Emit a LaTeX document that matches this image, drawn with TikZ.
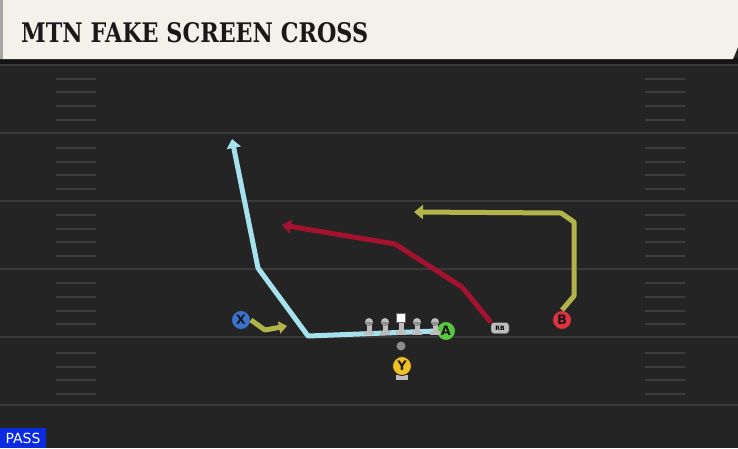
\documentclass[tikz,border=0pt]{standalone}
\usepackage{fontspec}
\setmainfont{DejaVu Sans}
\newfontfamily\titlefont{DejaVu Serif}
\usetikzlibrary{arrows.meta}
\definecolor{fieldbg}{HTML}{242424}
\definecolor{yardline}{HTML}{3A3A3A}
\definecolor{hashc}{HTML}{3D3D3D}
\definecolor{cream}{HTML}{F4F1EA}
\definecolor{routeblue}{HTML}{A6E1EE}
\definecolor{routered}{HTML}{A3122F}
\definecolor{routeolive}{HTML}{B3B34C}
\definecolor{pX}{HTML}{3A74D0}
\definecolor{pA}{HTML}{5BC740}
\definecolor{pB}{HTML}{E03340}
\definecolor{pY}{HTML}{F0C020}
\definecolor{olgray}{HTML}{BDBDBD}
\definecolor{olhead}{HTML}{8E8E8E}
\definecolor{passblue}{HTML}{0A2BE0}
\tikzset{
  player/.style={circle, draw=black!85, line width=0.9pt, inner sep=0pt, minimum size=19pt,
    font=\fontsize{13}{13}\selectfont\bfseries, text=black!90},
  route/.style={line width=5pt, line join=round, -{Triangle[width=14pt,length=9pt]}},
  yard/.style={draw=yardline, line width=2pt},
  hashm/.style={draw=hashc, line width=1.5pt},
}
\begin{document}
\begin{tikzpicture}[x=1pt,y=-1pt]
\useasboundingbox (0,0) rectangle (738,448);
\fill[fieldbg] (0,0) rectangle (738,448);
\fill[black!92] (0,58) rectangle (738,65);
% yard lines
\foreach \yy in {65,133,201,269,337,405} \draw[yard] (0,\yy) -- (738,\yy);
% hash marks
\foreach \yy in {79,92,106,120,148,162,175,189,215,229,242,256,283,297,311,324,353,367,380,394} {
  \draw[hashm] (56,\yy) -- (96,\yy);
  \draw[hashm] (645,\yy) -- (685,\yy);
}
% title bar
\fill[cream] (0,0) -- (738,0) -- (738,47) -- (733,59) -- (0,59) -- cycle;
\fill[black!35] (0,0) rectangle (3,59);
\node[anchor=base west, inner sep=0pt, text=black!90] (title) at (21,42)
  {\resizebox{347pt}{20pt}{\titlefont\bfseries MTN FAKE SCREEN CROSS}};
% players
\node[player, fill=pX] (X) at (241,320) {X};
\node[player, fill=pA] (A) at (446,331) {A};
\node[player, fill=pB] (B) at (562,320) {B};
\fill[olgray] (396,375) rectangle (408,380);
\node[player, fill=pY] (Y) at (402,366) {Y};
\node[circle, fill=black!45, inner sep=0pt, minimum size=9pt] (QB) at (401,346) {};
\node[draw=black!70, fill=olgray, rounded corners=3pt, inner sep=0pt, minimum width=18pt, minimum height=11pt,
  font=\fontsize{6}{6}\selectfont\bfseries] (RB) at (500,328) {RB};
% routes
\coordinate (b1) at (308,336);
\coordinate (b2) at (258,268);
\coordinate (b3) at (232,139);
\draw[route, routeblue] (A.west) -- (b1) -- (b2) -- (b3);
\coordinate (r1) at (462,287);
\coordinate (r2) at (395,244);
\coordinate (r3) at (282,225);
\draw[route, routered] (RB.north west) -- (r1) -- (r2) -- (r3);
\coordinate (o1) at (574,296);
\coordinate (o2) at (574,222);
\coordinate (o3) at (561,213);
\coordinate (o4) at (414,212);
\draw[route, routeolive] (B.north) -- (o1) -- (o2) -- (o3) -- (o4);
\coordinate (x1) at (265,330);
\coordinate (x2) at (287,326);
\draw[route, routeolive, -{Triangle[width=12pt,length=8pt]}] (X.east) -- (x1) -- (x2);
% offensive line
\foreach \xx/\nm in {369/L1,385/L2,417/L4,435/L5} {
  \fill[olgray] (\xx-5,331) rectangle (\xx+5,335);
  \fill[olgray] (\xx-2.5,322) rectangle (\xx+2.5,332);
  \node[circle, fill=olgray, inner sep=0pt, minimum size=8pt] (\nm) at (\xx,322) {};
  \fill[olhead] (\xx,322) ++(-4,0) arc (180:0:4) -- cycle;
}
\fill[olgray] (396,331) rectangle (406,335);
\fill[olgray] (398.5,322) rectangle (403.5,332);
\node[draw=black!60, fill=white, inner sep=0pt, minimum size=9pt] (C) at (401,318) {};
% pass label
\fill[passblue] (0,428) rectangle (46,448);
\node[text=white, font=\fontsize{14}{14}\selectfont, inner sep=0pt] (pass) at (23,438.5) {PASS};
\end{tikzpicture}
\end{document}
